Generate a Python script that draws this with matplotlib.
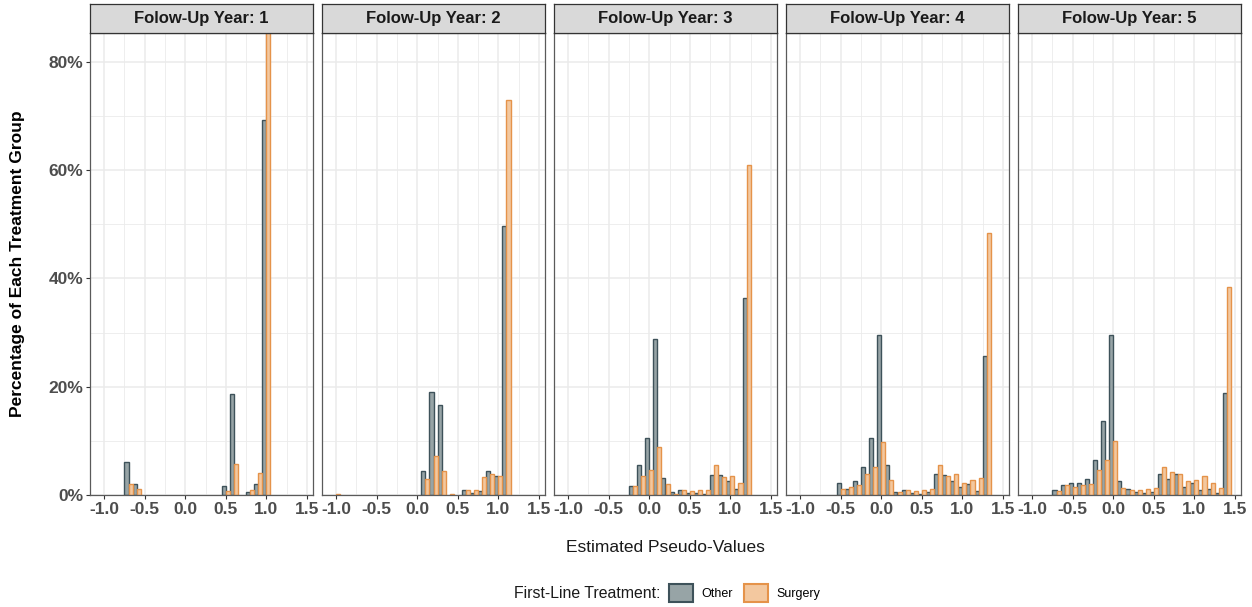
import matplotlib
matplotlib.use("Agg")
import matplotlib.pyplot as plt
from matplotlib.patches import Patch
from matplotlib.ticker import MultipleLocator, FuncFormatter
import numpy as np

plt.rcParams['font.family'] = ['Liberation Sans', 'DejaVu Sans']

# bin centres of the histogram (bin width 0.1)
bin_centers = [-1.0, -0.9, -0.8, -0.7, -0.6, -0.5, -0.4, -0.3, -0.2, -0.1,
               0.0, 0.1, 0.2, 0.3, 0.4, 0.5, 0.6, 0.7, 0.8, 0.9,
               1.0, 1.1, 1.2, 1.3, 1.4]

years = [1, 2, 3, 4, 5]

# percentage of each treatment group in each bin
y1_other = [0, 0, 0, 6.05, 2.0, 0, 0, 0, 0, 0, 0, 0, 0, 0, 0, 1.6, 18.6, 0, 0.5, 2.1, 69.2, 0, 0, 0, 0]
y1_surg = [0, 0, 0, 2.0, 1.1, 0, 0, 0, 0, 0, 0, 0, 0, 0, 0, 0.8, 5.7, 0, 0.9, 4.0, 85.5, 0, 0, 0, 0]
y2_other = [0, 0, 0, 0, 0, 0, 0, 0, 0, 0, 0, 4.5, 19.0, 16.7, 0, 0, 1.0, 0.4, 0.7, 4.5, 3.6, 49.6, 0, 0, 0]
y2_surg = [0.2, 0, 0, 0, 0, 0, 0, 0, 0, 0, 0, 3.0, 7.2, 4.5, 0.1, 0, 1.0, 0.9, 3.3, 3.8, 3.5, 72.9, 0, 0, 0]
y3_other = [0, 0, 0, 0, 0, 0, 0, 0, 1.7, 5.5, 10.5, 28.8, 3.2, 0.6, 0.9, 0.4, 0.3, 0.2, 3.75, 3.75, 2.6, 1.2, 36.3, 0, 0]
y3_surg = [0, 0, 0, 0, 0, 0, 0, 0, 1.6, 3.5, 4.7, 8.8, 2.0, 0.2, 0.9, 0.7, 0.9, 0.9, 5.5, 3.4, 3.6, 2.2, 60.9, 0, 0]
y4_other = [0, 0, 0, 0, 0, 2.2, 1.2, 2.6, 5.2, 10.6, 29.5, 5.6, 0.55, 0.9, 0.4, 0.2, 0.55, 3.9, 3.75, 2.6, 1.5, 2.0, 0.7, 25.6, 0]
y4_surg = [0, 0, 0, 0, 0, 1.1, 1.4, 1.8, 3.9, 5.1, 9.7, 2.7, 0.5, 1.0, 0.8, 0.9, 1.2, 5.5, 3.5, 3.8, 2.15, 2.7, 3.1, 48.3, 0]
y5_other = [0, 0, 0, 0.9, 1.85, 2.15, 2.15, 2.9, 6.4, 13.6, 29.5, 2.5, 1.05, 0.55, 0.4, 0.55, 3.9, 2.9, 3.9, 1.4, 2.15, 0.9, 1.05, 0.3, 18.8]
y5_surg = [0, 0, 0, 0.75, 1.8, 1.55, 1.8, 2.0, 4.7, 6.5, 9.9, 1.35, 0.9, 0.9, 1.15, 1.3, 5.1, 4.25, 3.9, 2.5, 2.8, 3.45, 2.3, 1.35, 38.4]

other = [y1_other, y2_other, y3_other, y4_other, y5_other]
surgery = [y1_surg, y2_surg, y3_surg, y4_surg, y5_surg]

other_fc, other_ec = '#97A4A6', '#3E525A'
surg_fc, surg_ec = '#F3C89F', '#E5934A'

W, H = 1252, 607
fig = plt.figure(figsize=(W / 100, H / 100), dpi=100)

x = np.array(bin_centers)
bw = 0.1
for i, yr in enumerate(years):
    left = 90 + i * 232
    ax = fig.add_axes([left / W, 1 - 495 / H, 223 / W, 462 / H])
    o = np.array(other[i])
    s = np.array(surgery[i])
    mo = o > 0
    ms = s > 0
    ax.bar(x[mo] - bw / 4, o[mo], width=bw / 2, color=other_fc, edgecolor=other_ec, linewidth=1.0, zorder=2)
    ax.bar(x[ms] + bw / 4, s[ms], width=bw / 2, color=surg_fc, edgecolor=surg_ec, linewidth=1.0, zorder=2)

    ax.set_xlim(-1.175, 1.575)
    ax.set_ylim(0, 85.3)
    ax.xaxis.set_major_locator(MultipleLocator(0.5))
    ax.xaxis.set_minor_locator(MultipleLocator(0.25))
    ax.yaxis.set_major_locator(MultipleLocator(20))
    ax.yaxis.set_minor_locator(MultipleLocator(10))
    ax.xaxis.set_major_formatter(FuncFormatter(lambda v, p: f"{v:.1f}"))
    ax.yaxis.set_major_formatter(FuncFormatter(lambda v, p: f"{v:.0f}%"))
    ax.grid(True, which='major', color='#EBEBEB', linewidth=1.1, zorder=0)
    ax.grid(True, which='minor', color='#EBEBEB', linewidth=0.6, zorder=0)
    ax.set_axisbelow(True)
    for sp in ax.spines.values():
        sp.set_color('#5A5A5A')
        sp.set_linewidth(0.9)
    ax.tick_params(which='major', length=3, width=0.8, color='#333333',
                   labelcolor='#4D4D4D', labelsize=12.5, pad=2)
    ax.tick_params(which='minor', length=0)
    for lab in ax.get_xticklabels() + ax.get_yticklabels():
        lab.set_fontweight('bold')
    if i > 0:
        ax.tick_params(axis='y', which='both', left=False, labelleft=False)

    # facet strip
    sax = fig.add_axes([left / W, 1 - 33 / H, 223 / W, 29 / H])
    sax.set_facecolor('#D9D9D9')
    sax.set_xticks([])
    sax.set_yticks([])
    for sp in sax.spines.values():
        sp.set_color('#333333')
        sp.set_linewidth(0.9)
    sax.text(0.5, 0.5, f"Folow-Up Year: {yr}", ha='center', va='center',
             fontsize=12, fontweight='bold', color='#1A1A1A', transform=sax.transAxes)

fig.text(18 / W, 1 - 264 / H, 'Percentage of Each Treatment Group', rotation=90,
         ha='center', va='center', fontsize=12.5, fontweight='bold', color='black')
fig.text(665 / W, 1 - 548 / H, 'Estimated Pseudo-Values', ha='center', va='center',
         fontsize=12.5, color='#1A1A1A')

fig.text(660 / W, 1 - 593 / H, 'First-Line Treatment:', ha='right', va='center',
         fontsize=11.4, color='#1A1A1A')
handles = [Patch(facecolor=other_fc, edgecolor=other_ec, linewidth=1.5, label='Other'),
           Patch(facecolor=surg_fc, edgecolor=surg_ec, linewidth=1.5, label='Surgery')]
fig.legend(handles=handles, loc='center left', bbox_to_anchor=(669 / W, 1 - 593 / H),
           ncol=2, frameon=False, fontsize=9, handlelength=1.9, handleheight=1.9,
           handletextpad=0.7, columnspacing=0.9, borderpad=0, borderaxespad=0)

fig.savefig('out.png', dpi=100)
